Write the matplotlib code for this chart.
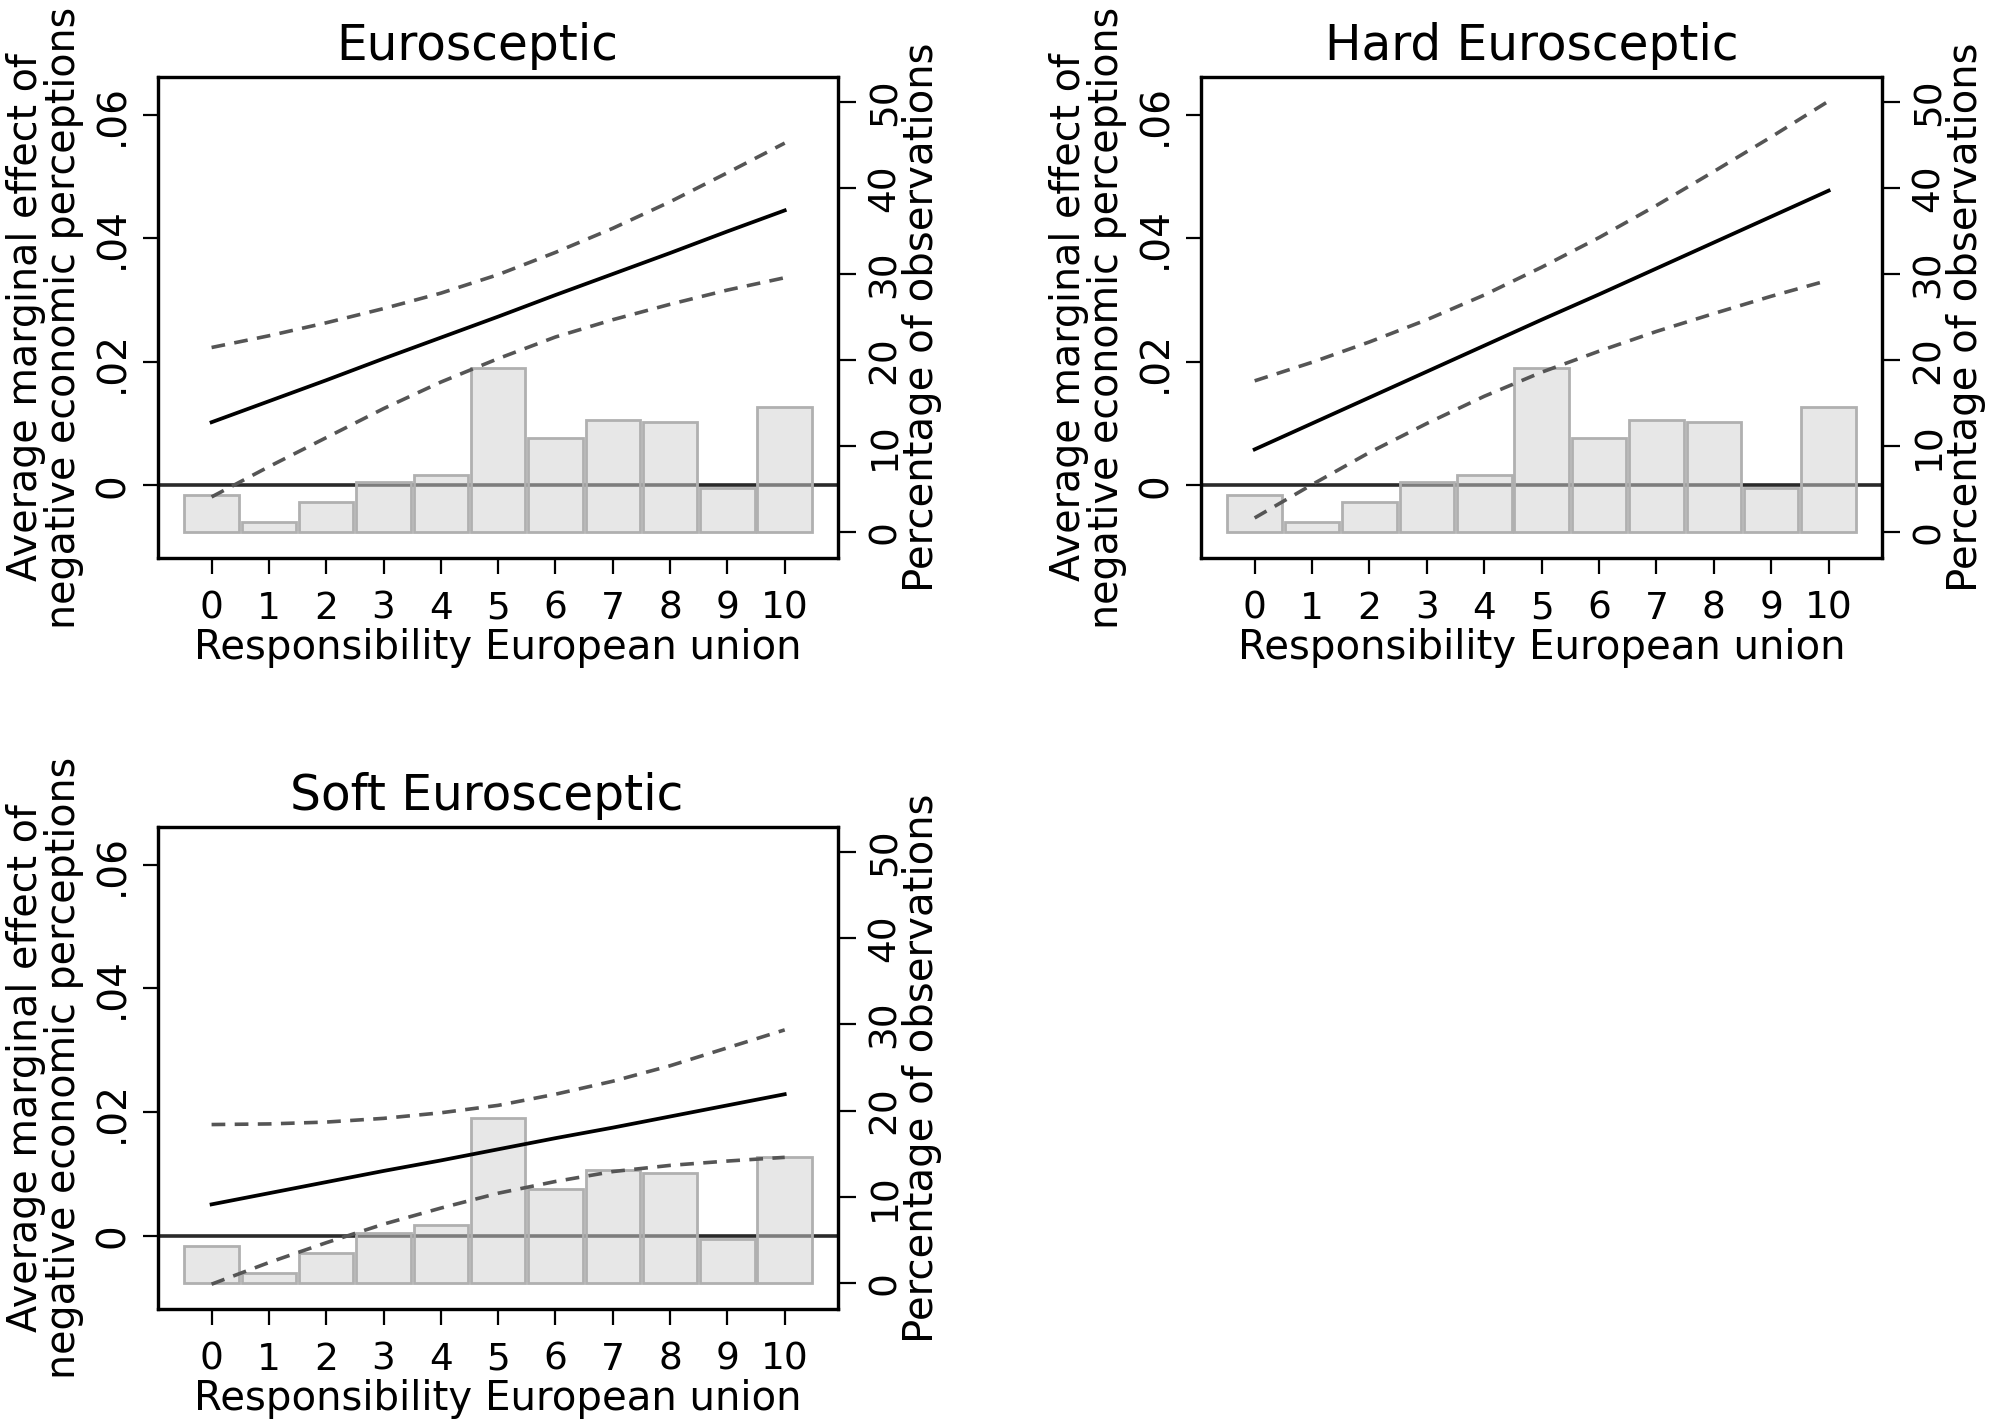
#!/usr/bin/env python3

import matplotlib
matplotlib.use("Agg")
import matplotlib.pyplot as plt

# responsibility scale (x) and histogram of observations (%)
responsibility = [0, 1, 2, 3, 4, 5, 6, 7, 8, 9, 10]
pct_obs = [4.3, 1.2, 3.5, 5.8, 6.7, 19.1, 10.9, 13.1, 12.8, 5.1, 14.6]

titles = ["Eurosceptic", "Hard Eurosceptic", "Soft Eurosceptic"]

# average marginal effect and 95% CI
euro_est = [0.0102, 0.0136, 0.0170, 0.0205, 0.0239, 0.0273, 0.0308, 0.0342, 0.0376, 0.0411, 0.0445]
euro_hi = [0.0223, 0.0242, 0.0263, 0.0286, 0.0311, 0.0341, 0.0377, 0.0416, 0.0459, 0.0506, 0.0554]
euro_lo = [-0.0019, 0.0030, 0.0077, 0.0124, 0.0167, 0.0205, 0.0240, 0.0268, 0.0293, 0.0316, 0.0336]

hard_est = [0.0058, 0.0100, 0.0142, 0.0184, 0.0226, 0.0268, 0.0309, 0.0351, 0.0393, 0.0435, 0.0477]
hard_hi = [0.0169, 0.0199, 0.0232, 0.0268, 0.0308, 0.0353, 0.0401, 0.0453, 0.0508, 0.0564, 0.0622]
hard_lo = [-0.0053, 0.0001, 0.0053, 0.0100, 0.0144, 0.0183, 0.0217, 0.0249, 0.0278, 0.0306, 0.0332]

soft_est = [0.0051, 0.0069, 0.0087, 0.0105, 0.0122, 0.0140, 0.0158, 0.0175, 0.0193, 0.0211, 0.0229]
soft_hi = [0.0180, 0.0181, 0.0184, 0.0190, 0.0199, 0.0211, 0.0229, 0.0250, 0.0275, 0.0304, 0.0333]
soft_lo = [-0.0078, -0.0043, -0.0011, 0.0019, 0.0045, 0.0069, 0.0088, 0.0104, 0.0114, 0.0121, 0.0127]

left_ticks = [0, 0.02, 0.04, 0.06]
left_ticklabels = ["0", ".02", ".04", ".06"]
right_ticks = [0, 10, 20, 30, 40, 50]

# layout: axes rectangle (figure fraction) and title x position (axes fraction)
PANELS = [
    (titles[0], euro_est, euro_lo, euro_hi, [0.079, 0.6081, 0.340, 0.3378], 0.469),
    (titles[1], hard_est, hard_lo, hard_hi, [0.6005, 0.6081, 0.3405, 0.3378], 0.486),
    (titles[2], soft_est, soft_lo, soft_hi, [0.079, 0.0808, 0.340, 0.3385], 0.484),
]


def draw_panel(fig, title, est, lo, hi, rect, title_x):
    ax = fig.add_axes(rect)
    ax.axhline(0, color="#2a2a2a", lw=2.6, zorder=1)
    ax.set_xlim(-0.935, 10.93)
    ax.set_ylim(-0.0118, 0.0661)

    ax2 = ax.twinx()
    ax2.bar(responsibility, pct_obs, width=0.95, color=(0.82, 0.82, 0.82, 0.5),
            edgecolor="#b0b0b0", linewidth=2.0, zorder=2)
    ax2.set_ylim(-3.0, 52.9)

    # lines go on top of the bars, but use the left-hand scale
    ax2.plot(responsibility, hi, color="#555555", lw=2.6, ls=(0, (3.8, 2.6)),
             transform=ax.transData, zorder=3)
    ax2.plot(responsibility, lo, color="#555555", lw=2.6, ls=(0, (3.8, 2.6)),
             transform=ax.transData, zorder=3)
    ax2.plot(responsibility, est, color="black", lw=2.7,
             transform=ax.transData, zorder=4)

    for a in (ax, ax2):
        for sp in a.spines.values():
            sp.set_linewidth(2.3)
            sp.set_color("black")

    ax.set_xticks(responsibility)
    ax.set_xticklabels([str(v) for v in responsibility])
    ax.set_yticks(left_ticks)
    ax.set_yticklabels(left_ticklabels)
    ax2.set_yticks(right_ticks)
    ax2.set_yticklabels([str(v) for v in right_ticks])

    ax.tick_params(axis="x", length=11.5, width=1.6, labelsize=27, pad=12)
    ax.tick_params(axis="y", length=11, width=1.6, labelsize=28, pad=8,
                   labelrotation=90)
    ax2.tick_params(axis="y", length=13, width=1.6, labelsize=27, pad=8,
                    labelrotation=90)
    for t in ax.get_yticklabels() + ax2.get_yticklabels():
        t.set_va("center")

    ax.set_title(title, fontsize=35, x=title_x, pad=12)
    ax.set_ylabel("Average marginal effect of\nnegative economic perceptions",
                  fontsize=28.5, linespacing=0.92)
    ax.yaxis.set_label_coords(-0.109, 0.5)
    ax.set_xlabel("Responsibility European union", fontsize=29)
    ax.xaxis.set_label_coords(0.5, -0.1455)
    ax2.set_ylabel("Percentage of observations", fontsize=29)
    ax2.yaxis.set_label_coords(1.094, 0.5)


def main():
    fig = plt.figure(figsize=(20, 14.24), dpi=100)
    for title, est, lo, hi, rect, tx in PANELS:
        draw_panel(fig, title, est, lo, hi, rect, tx)
    fig.savefig("out.png", dpi=100, facecolor="white")


if __name__ == "__main__":
    main()
